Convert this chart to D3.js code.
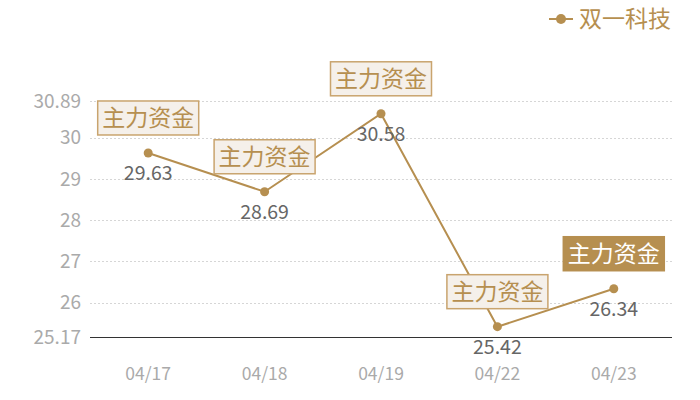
<!DOCTYPE html>
<html><head><meta charset="utf-8">
<script src="https://cdn.jsdelivr.net/npm/d3@7"></script>
<style>body{margin:0;background:#fff;} svg{display:block;font-family:"Noto Sans CJK SC","Noto Sans",sans-serif;}</style>
</head><body>
<svg id="c" width="700" height="400"></svg>
<script>
const categories = ["04/17","04/18","04/19","04/22","04/23"];
const values = [29.63, 28.69, 30.58, 25.42, 26.34];
const yTicks = [25.17, 26, 27, 28, 29, 30, 30.89];
const seriesName = "双一科技";
const tagText = "主力资金";
const highlightIndex = 4;

const gold = "#b68f50";
const svg = d3.select("#c");
const x = d3.scaleBand().domain(categories).range([90, 672]);
const y = d3.scaleLinear().domain([25.17, 30.89]).range([337, 101]);
const cx = d => x(d) + x.bandwidth()/2;

// grid
svg.append("g").selectAll("line").data(yTicks.slice(1)).join("line")
  .attr("x1", 90).attr("x2", 672).attr("y1", d => Math.round(y(d)) + 0.5).attr("y2", d => Math.round(y(d)) + 0.5)
  .attr("stroke", "#d6d6d6").attr("stroke-dasharray", "2,2");
// axis line
svg.append("line").attr("x1", 90).attr("x2", 672).attr("y1", y(25.17) + 0.5).attr("y2", y(25.17) + 0.5)
  .attr("stroke", "#333").attr("stroke-width", 1);
// y labels
svg.append("g").selectAll("text").data(yTicks).join("text")
  .attr("x", 81).attr("y", d => y(d)).attr("dy", "0.35em").attr("text-anchor", "end")
  .attr("fill", "#aaa").attr("font-size", 19).text(d => d);
// x labels
svg.append("g").selectAll("text").data(categories).join("text")
  .attr("x", d => cx(d)).attr("y", 374).attr("dy", "0.35em").attr("text-anchor", "middle")
  .attr("fill", "#aaa").attr("font-size", 17.5).text(d => d);

const pts = categories.map((c, i) => ({c, v: values[i], i}));
svg.append("path").datum(pts)
  .attr("d", d3.line().x(d => cx(d.c)).y(d => y(d.v)))
  .attr("fill", "none").attr("stroke", gold).attr("stroke-width", 2);
svg.append("g").selectAll("circle").data(pts).join("circle")
  .attr("cx", d => cx(d.c)).attr("cy", d => y(d.v)).attr("r", 4.5).attr("fill", gold);
// value labels
svg.append("g").selectAll("text").data(pts).join("text")
  .attr("x", d => cx(d.c)).attr("y", d => y(d.v) + 20).attr("dy", "0.35em")
  .attr("text-anchor", "middle").attr("fill", "#666").attr("font-size", 19.5)
  .text(d => d.v.toFixed(2));
// tags
const tg = svg.append("g").selectAll("g").data(pts).join("g")
  .attr("transform", d => `translate(${cx(d.c)},${y(d.v) - 35})`);
tg.append("rect").attr("x", -50.5).attr("y", -17).attr("width", 101).attr("height", 34)
  .attr("fill", d => d.i === highlightIndex ? gold : "#f5f0ea")
  .attr("stroke", d => d.i === highlightIndex ? gold : "#c9a46e").attr("stroke-width", 1.5);
tg.append("text").attr("text-anchor", "middle").attr("dy", "0.36em").attr("font-size", 23)
  .attr("fill", d => d.i === highlightIndex ? "#fff" : gold).text(tagText);

// legend
const lg = svg.append("g").attr("transform", "translate(561,19)");
lg.append("line").attr("x1", -12).attr("x2", 12).attr("stroke", gold).attr("stroke-width", 2);
lg.append("circle").attr("r", 5).attr("fill", gold);
lg.append("text").attr("x", 18).attr("dy", "0.36em").attr("font-size", 23).attr("fill", gold).text(seriesName);
</script>
</body></html>
